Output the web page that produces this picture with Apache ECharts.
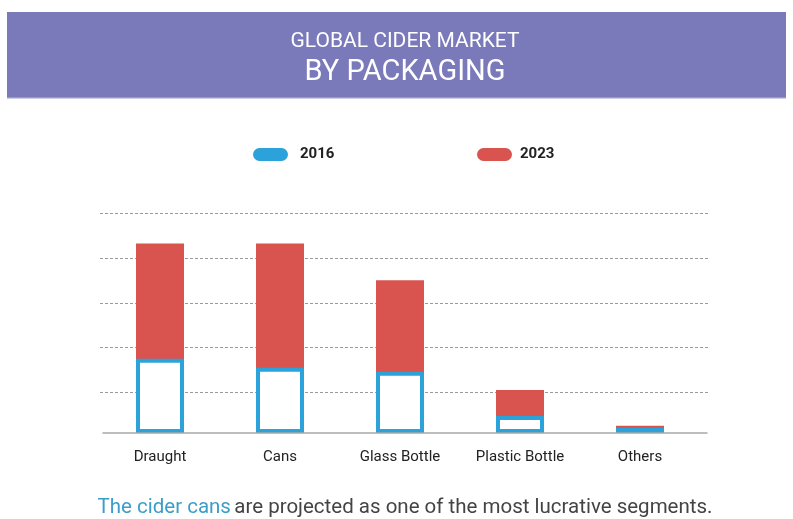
<!DOCTYPE html>
<html>
<head>
<meta charset="utf-8">
<script src="https://cdn.jsdelivr.net/npm/echarts@6/dist/echarts.min.js"></script>
<style>
html,body{margin:0;padding:0;background:#fff;}
#c{width:793px;height:519px;}
</style>
</head>
<body>
<div id="c"></div>
<script>
const categories = ['Draught', 'Cans', 'Glass Bottle', 'Plastic Bottle', 'Others'];
const values2016 = [16.6, 14.6, 13.7, 3.8, 1.1];
const values2023 = [42.4, 42.4, 34.2, 9.6, 1.6];
const seriesNames = ['2016', '2023'];
const titleLine1 = 'GLOBAL CIDER MARKET';
const titleLine2 = 'BY PACKAGING';
const footHighlight = 'The cider cans';
const footRest = 'are projected as one of the most lucrative segments.';

const BLUE = '#2ba3da';
const RED = '#d9534f';
const PURPLE = '#7a79ba';
const CAPSULE = 'path://M6.5,0 H28.5 A6.5,6.5 0 0 1 28.5,13 H6.5 A6.5,6.5 0 0 1 6.5,0 Z';

const chart = echarts.init(document.getElementById('c'), null, {renderer: 'canvas'});
chart.setOption({
  animation: false,
  backgroundColor: '#fff',
  legend: [
    {left: 248, top: 142, itemWidth: 35, itemHeight: 13, icon: CAPSULE,
     textStyle: {fontSize: 15, fontWeight: 'bold', color: '#222', fontFamily: 'Roboto, sans-serif', padding: [0, 0, 0, 7]},
     data: [{name: seriesNames[0], itemStyle: {color: BLUE, borderWidth: 0}}]},
    {left: 472, top: 142, itemWidth: 35, itemHeight: 13, icon: CAPSULE,
     textStyle: {fontSize: 15, fontWeight: 'bold', color: '#222', fontFamily: 'Roboto, sans-serif', padding: [0, 0, 0, 3]},
     data: [{name: seriesNames[1], itemStyle: {color: RED, borderWidth: 0}}]}
  ],
  grid: [
    {left: 100, width: 600, top: 209.5, bottom: 86},
    {left: 100, width: 608, top: 213.6, bottom: 81.9},
    {left: 103, width: 604, top: 200, bottom: 86}
  ],
  xAxis: [
    {type: 'category', gridIndex: 0, data: categories,
     axisLine: {show: false}, axisTick: {show: false},
     axisLabel: {margin: 17, fontSize: 15, color: '#222', fontFamily: 'Roboto, sans-serif'}},
    {type: 'category', gridIndex: 0, data: categories, show: false},
    {type: 'value', gridIndex: 1, min: 0, max: 1, show: false},
    {type: 'value', gridIndex: 2, min: 0, max: 1, axisLabel: {show: false}, axisTick: {show: false},
     splitLine: {show: false}, axisLine: {show: true, lineStyle: {color: '#a8a8a8', width: 1.5}}, z: 5}
  ],
  yAxis: [
    {type: 'value', gridIndex: 0, min: 0, max: 50, show: false},
    {type: 'value', gridIndex: 1, min: 0, max: 5, interval: 1,
     axisLine: {show: false}, axisTick: {show: false}, axisLabel: {show: false},
     splitLine: {show: true, showMinLine: false, lineStyle: {color: '#9a9a9a', type: [3, 2], width: 1}}},
    {type: 'value', gridIndex: 2, min: 0, max: 1, show: false}
  ],
  series: [
    {name: seriesNames[1], type: 'bar', xAxisIndex: 0, yAxisIndex: 0, barWidth: 48,
     itemStyle: {color: RED}, data: values2023, z: 2},
    {name: seriesNames[0], type: 'bar', xAxisIndex: 1, yAxisIndex: 0, barWidth: 48,
     itemStyle: {color: '#fff', borderColor: BLUE, borderWidth: 4}, data: values2016, z: 3}
  ],
  graphic: [
    {type: 'rect', left: 7, top: 12, shape: {width: 779, height: 86}, style: {fill: PURPLE}, z: -1},
    {type: 'rect', left: 7, top: 97, shape: {width: 779, height: 1.5}, style: {fill: '#9c9bc4'}, z: -1},
    {type: 'text', x: 405, y: 42, z: 10,
     style: {text: titleLine1, align: 'center', verticalAlign: 'middle', fill: '#fff',
             fontSize: 21, fontFamily: 'Roboto, sans-serif'}},
    {type: 'text', x: 405, y: 73, z: 10,
     style: {text: titleLine2, align: 'center', verticalAlign: 'middle', fill: '#fff',
             fontSize: 29, fontFamily: 'Roboto, sans-serif'}},
    {type: 'text', x: 405, y: 508, z: 10,
     style: {
       text: '{a|' + footHighlight + '} {b|' + footRest + '}',
       align: 'center', verticalAlign: 'middle',
       rich: {
         a: {fontSize: 20.5, fill: '#3b9dc8', fontFamily: 'Roboto, sans-serif'},
         b: {fontSize: 20.5, fill: '#444', fontFamily: 'Roboto, sans-serif'}
       }
     }}
  ]
});
</script>
</body>
</html>
